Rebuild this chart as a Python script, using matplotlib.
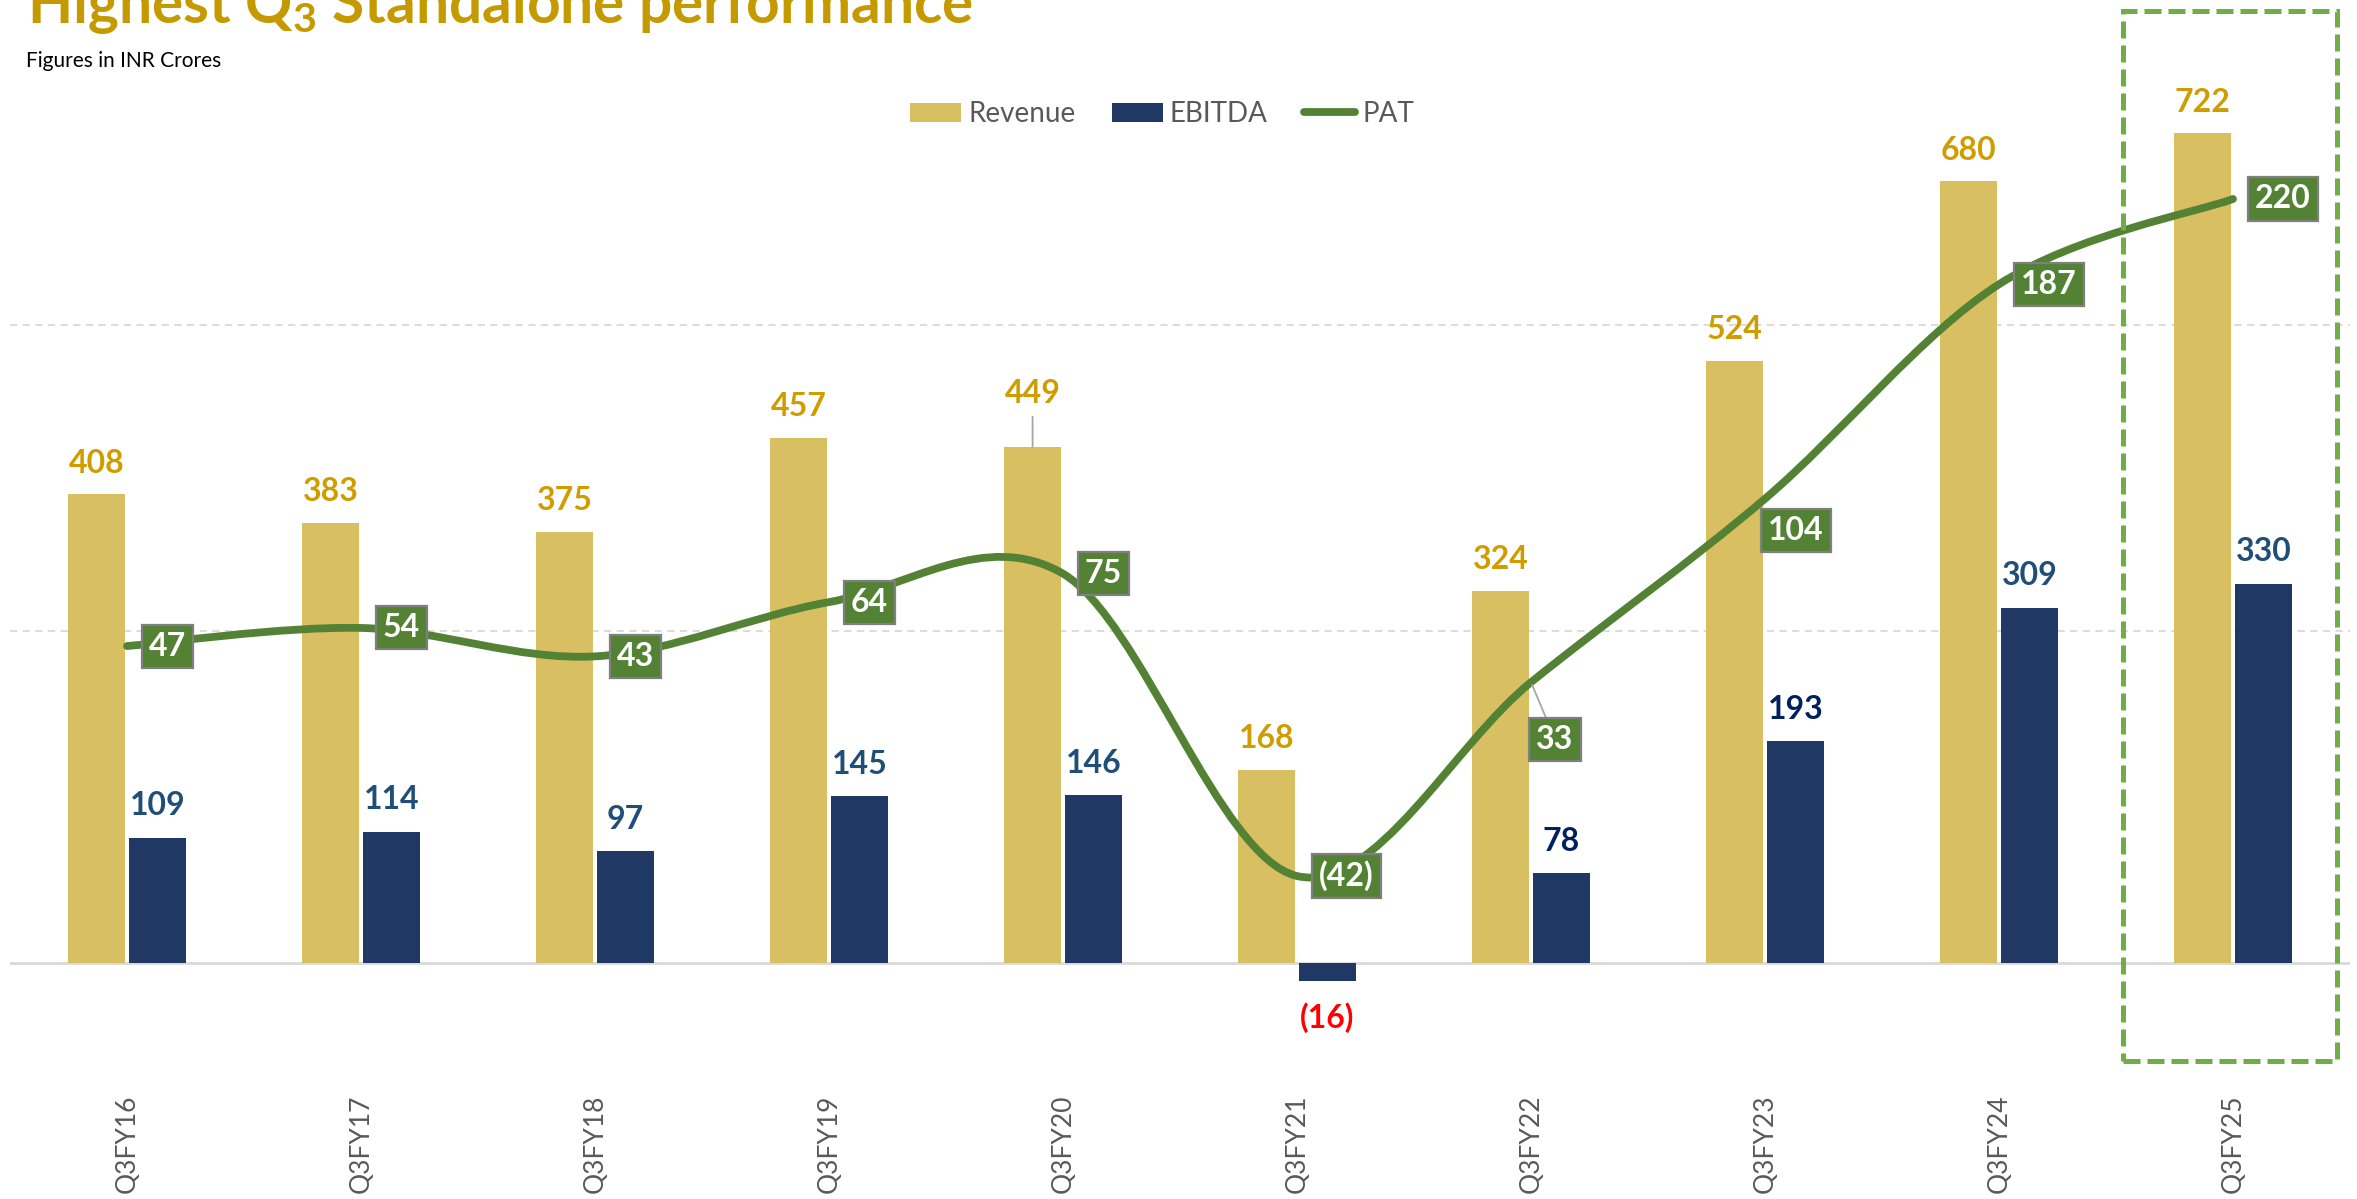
import matplotlib
matplotlib.use("Agg")
import matplotlib.pyplot as plt
import matplotlib.transforms as mtransforms
from matplotlib.path import Path
from matplotlib.patches import PathPatch, Patch, Rectangle
from matplotlib.lines import Line2D
import numpy as np

# ---------------- data ----------------
categories = ["Q3FY16", "Q3FY17", "Q3FY18", "Q3FY19", "Q3FY20",
              "Q3FY21", "Q3FY22", "Q3FY23", "Q3FY24", "Q3FY25"]
revenue = [408, 383, 375, 457, 449, 168, 324, 524, 680, 722]
ebitda = [109, 114, 97, 145, 146, -16, 78, 193, 309, 330]
pat = [47, 54, 43, 64, 75, -42, 33, 104, 187, 220]

# ---------------- style ----------------
W, H = 2357, 1199
REV_C = "#D8BF62"
EBI_C = "#203864"
PAT_C = "#548235"
REV_LBL = "#CF9D00"
EBI_LBL = ["#1F4E79", "#1F4E79", "#1F4E79", "#1F4E79", "#1F4E79",
           "#FF0000", "#002060", "#002060", "#1F4E79", "#1F4E79"]
TITLE_C = "#C49A00"
GRAY_TXT = "#595959"
LBL_FS = 23

plt.rcParams["font.family"] = ["Lato", "DejaVu Sans"]
plt.rcParams["mathtext.default"] = "regular"

def fmt(v):
    return f"({abs(v)})" if v < 0 else f"{v}"

fig = plt.figure(figsize=(W / 100, H / 100), dpi=100)
ax = fig.add_axes([10 / W, 1 - 1090 / H, 2340 / W, 990 / H])

x = np.arange(len(categories))
bw = 0.244
off = 0.13
ax.bar(x - off, revenue, bw, color=REV_C, zorder=2)
ax.bar(x + off, ebitda, bw, color=EBI_C, zorder=2)

ax.set_xlim(-0.5, 9.5)
ax.set_ylim(-110.5, 750.8)
ax.set_yticks([289, 555])
ax.yaxis.grid(True, linestyle=(0, (4, 3)), color="#D9D9D9", linewidth=1.3)
ax.set_axisbelow(True)
ax.tick_params(axis="y", length=0, labelleft=False)
ax.axhline(0, color="#D9D9D9", linewidth=2, zorder=1)
ax.set_xticks(x, categories, rotation=90)
ax.tick_params(axis="x", length=0, pad=3, labelsize=19, labelcolor=GRAY_TXT)
for s in ax.spines.values():
    s.set_visible(False)

# revenue labels
for i, v in enumerate(revenue):
    if categories[i] == "Q3FY20":
        ax.annotate(fmt(v), xy=(x[i] - off, v), xytext=(0, 53),
                    textcoords="offset pixels", ha="center", va="center",
                    fontsize=LBL_FS, fontweight="bold", color=REV_LBL,
                    arrowprops=dict(arrowstyle="-", color="#A6A6A6", lw=1.3,
                                    shrinkA=4, shrinkB=0))
    else:
        ax.annotate(fmt(v), xy=(x[i] - off, v), xytext=(0, 31),
                    textcoords="offset pixels", ha="center", va="center",
                    fontsize=LBL_FS, fontweight="bold", color=REV_LBL)

# ebitda labels
for i, v in enumerate(ebitda):
    dy = 32 if v >= 0 else -36
    ax.annotate(fmt(v), xy=(x[i] + off, v), xytext=(0, dy),
                textcoords="offset pixels", ha="center", va="center",
                fontsize=LBL_FS, fontweight="bold", color=EBI_LBL[i])

# ---------------- PAT on secondary axis ----------------
ax2 = ax.twinx()
ax2.set_ylim(-124.8, 258.3)
ax2.axis("off")

pts = np.column_stack([x, pat]).astype(float)
n = len(pts)
verts = [pts[0]]
codes = [Path.MOVETO]
for i in range(n - 1):
    p0 = pts[i - 1] if i > 0 else pts[i]
    p1 = pts[i]
    p2 = pts[i + 1]
    p3 = pts[i + 2] if i + 2 < n else pts[i + 1]
    c1 = p1 + (p2 - p0) / 6.0
    c2 = p2 - (p3 - p1) / 6.0
    verts += [c1, c2, p2]
    codes += [Path.CURVE4] * 3
ax2.add_patch(PathPatch(Path(verts, codes), fill=False, edgecolor=PAT_C,
                        linewidth=5.6, capstyle="round", joinstyle="round",
                        zorder=3))

box = dict(boxstyle="square,pad=0.22", facecolor=PAT_C, edgecolor="#7F7F7F",
           linewidth=1.6)
for i, v in enumerate(pat):
    kw = dict(textcoords="offset pixels", va="center", fontsize=LBL_FS,
              fontweight="bold", color="white", bbox=box, zorder=5)
    if categories[i] == "Q3FY23":
        ax2.annotate(fmt(v), xy=(x[i], v), xytext=(31, -32), ha="center", **kw)
    elif categories[i] == "Q3FY22":
        ax2.annotate(fmt(v), xy=(x[i], v), xytext=(24, -57), ha="center",
                     arrowprops=dict(arrowstyle="-", color="#A6A6A6", lw=1.3,
                                     shrinkA=0, shrinkB=2), **kw)
    else:
        ax2.annotate(fmt(v), xy=(x[i], v), xytext=(22, 0), ha="left", **kw)

# ---------------- highlight box for latest quarter ----------------
trans = mtransforms.blended_transform_factory(ax.transData, fig.transFigure)
hl = Rectangle((8.53, 1 - 1061 / H), 0.915, (1061 - 11) / H, transform=trans,
               fill=False, edgecolor="#70AD47", linewidth=3.6,
               linestyle=(0, (3.4, 1.4)), clip_on=False, zorder=6)
fig.add_artist(hl)

# ---------------- titles ----------------
fig.text(27 / W, 1 - 23 / H, "Highest Q$_3$ Standalone performance",
         fontsize=42.2, fontweight="bold", color=TITLE_C, va="baseline")
fig.text(26 / W, 1 - 67 / H, "Figures in INR Crores", fontsize=15,
         color="black", va="baseline")

# ---------------- legend ----------------
handles = [Patch(facecolor=REV_C, edgecolor="none"),
           Patch(facecolor=EBI_C, edgecolor="none"),
           Line2D([], [], color=PAT_C, linewidth=5.6, solid_capstyle="round")]
fig.legend(handles, ["Revenue", "EBITDA", "PAT"], loc="center",
           bbox_to_anchor=(1162 / W, 1 - 114 / H), ncol=3, frameon=False,
           fontsize=20, labelcolor=GRAY_TXT, handlelength=1.85,
           handleheight=0.65, handletextpad=0.25, columnspacing=1.3)

fig.savefig("out.png", dpi=100)
